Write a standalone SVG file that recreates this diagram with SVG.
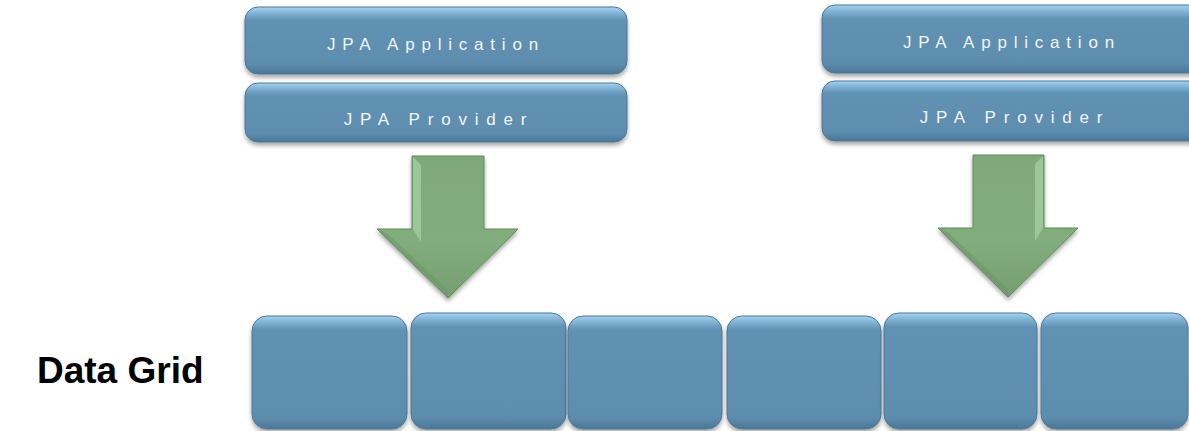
<svg xmlns="http://www.w3.org/2000/svg" width="1189" height="431" viewBox="0 0 1189 431">
<defs>
<linearGradient id="gTop" x1="0" y1="0" x2="0" y2="1">
<stop offset="0" stop-color="#a6d3f0"/>
<stop offset="0.1" stop-color="#7eb0d3"/>
<stop offset="0.2" stop-color="#6192b4"/>
<stop offset="0.85" stop-color="#5d8dae"/>
<stop offset="1" stop-color="#4c7695"/>
</linearGradient>
<linearGradient id="gGrid" x1="0" y1="0" x2="0" y2="1">
<stop offset="0" stop-color="#a6d3f0"/>
<stop offset="0.06" stop-color="#7eb0d3"/>
<stop offset="0.12" stop-color="#6192b4"/>
<stop offset="0.9" stop-color="#5d8dae"/>
<stop offset="1" stop-color="#4c7695"/>
</linearGradient>
<linearGradient id="gArrow" x1="0" y1="0" x2="0" y2="1">
<stop offset="0" stop-color="#7fa97b"/>
<stop offset="0.6" stop-color="#82ad7d"/>
<stop offset="1" stop-color="#759f70"/>
</linearGradient>
<filter id="shadow" x="-10%" y="-20%" width="120%" height="150%">
<feDropShadow dx="0" dy="3" stdDeviation="2" flood-color="#000" flood-opacity="0.35"/>
</filter>
<style>
.box{fill:url(#gTop);stroke:#4d7897;stroke-width:1;filter:url(#shadow)}
.cell{fill:url(#gGrid);stroke:#4d7897;stroke-width:1;filter:url(#shadow)}
.lbl{font-family:"Liberation Sans",Arial,sans-serif;font-size:17px;fill:#f2f6fa;text-anchor:middle}
.arrow{fill:url(#gArrow);stroke:#5f8a5a;stroke-width:1;filter:url(#shadow)}
.bevel{fill:#a7d0a1;opacity:0.75}
.title{font-family:"Liberation Sans",Arial,sans-serif;font-size:37px;font-weight:bold;fill:#000}
</style>
</defs>
<rect width="1189" height="431" fill="#fff"/>

<g id="app-left">
<rect class="box" x="245" y="7" width="382" height="67" rx="13"/>
<text class="lbl" x="436" y="50" letter-spacing="6.8">JPA Application</text>
</g>
<g id="provider-left">
<rect class="box" x="245" y="83" width="382" height="59" rx="13"/>
<text class="lbl" x="439" y="125" letter-spacing="7.8">JPA Provider</text>
</g>
<g id="app-right">
<rect class="box" x="822" y="5" width="382" height="68" rx="13"/>
<text class="lbl" x="1012" y="48" letter-spacing="6.8">JPA Application</text>
</g>
<g id="provider-right">
<rect class="box" x="822" y="81" width="382" height="60" rx="13"/>
<text class="lbl" x="1015" y="123" letter-spacing="7.8">JPA Provider</text>
</g>

<g id="connectors">
<g id="arrow-left">
<polygon class="arrow" points="412,156 484,156 484,229 518,229 448,298 377,229 412,229"/>
<polygon class="bevel" points="413,157 421,165 421,242 413,229"/>
<polygon fill="#6e9769" opacity="0.6" points="377,229 448,298 448,290 388,234"/>
</g>
<g id="arrow-right">
<polygon class="arrow" points="973,155 1044,155 1044,228 1078,228 1008,297 938,228 973,228"/>
<polygon class="bevel" points="1043,156 1035,164 1035,241 1043,228"/>
<polygon fill="#6e9769" opacity="0.6" points="938,228 1008,297 1008,289 949,233"/>
</g>
</g>

<g id="data-grid-label">
<text class="title" x="37" y="383">Data Grid</text>
</g>
<g id="grid-1"><rect class="cell" x="252" y="316" width="155" height="113" rx="15"/></g>
<g id="grid-2"><rect class="cell" x="411" y="313" width="155" height="116" rx="15"/></g>
<g id="grid-3"><rect class="cell" x="568" y="316" width="154" height="113" rx="15"/></g>
<g id="grid-4"><rect class="cell" x="727" y="316" width="154" height="113" rx="15"/></g>
<g id="grid-5"><rect class="cell" x="884" y="313" width="153" height="116" rx="15"/></g>
<g id="grid-6"><rect class="cell" x="1041" y="313" width="147" height="116" rx="15"/></g>
</svg>
